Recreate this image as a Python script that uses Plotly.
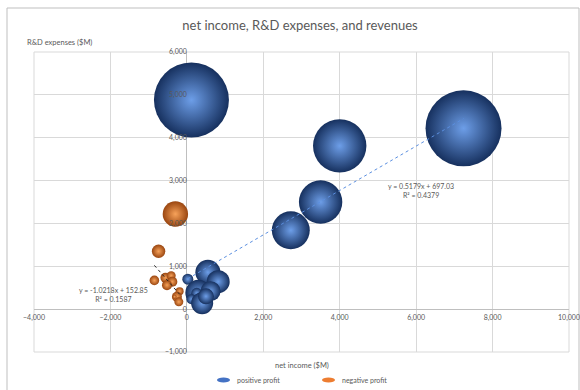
import plotly.graph_objects as go

# Companies with positive net income
pos_income = [120, 7240, 4000, 3500, 2720, 25, 550, 820, 300, 620, 260, 120, 400, 500]
pos_rd = [4880, 4220, 3810, 2500, 1840, 700, 860, 640, 380, 420, 370, 230, 140, 300]
pos_revenue = [63300, 65000, 32100, 21200, 16200, 1360, 7030, 5950, 7600, 4500, 1360, 1125, 5445, 2880]

# Companies with negative net income
neg_income = [-300, -740, -850, -560, -410, -380, -520, -190, -260, -210, -320]
neg_rd = [2220, 1350, 670, 730, 780, 640, 560, 420, 290, 170, 290]
neg_revenue = [7260, 2020, 1040, 1125, 910, 1125, 1125, 720, 1125, 910, 180]

# Linear trendlines (slope, intercept, R²)
pos_fit = (0.5179, 697.03, 0.4379)
neg_fit = (-1.0218, 152.85, 0.1587)

x_ticks = [-4000, -2000, 0, 2000, 4000, 6000, 8000, 10000]
y_ticks = [-1000, 0, 1000, 2000, 3000, 4000, 5000, 6000]

# edge colour, centre highlight colour
BLUE_EDGE, BLUE_CENTER = "#16305e", "#6d9ee8"
ORANGE_EDGE, ORANGE_CENTER = "#9a4610", "#f7a25a"
BLUE, ORANGE = "#4472C4", "#ED7D31"
TEXT = "#595959"
FONT = "Lato"

W, H = 580, 390
ML, MR, MT, MB = 34, 11, 52, 38
PW, PH = W - ML - MR, H - MT - MB


def px(xp):
    return (xp - ML) / PW


def py(yp):
    return (H - MB - yp) / PH


max_diam = 76
sizeref = 2 * max(pos_revenue + neg_revenue) / max_diam ** 2

fig = go.Figure()

fig.add_trace(go.Scatter(
    x=pos_income, y=pos_rd, mode="markers", name="positive profit",
    marker=dict(size=pos_revenue, sizemode="area", sizeref=sizeref, opacity=1,
                color=BLUE_EDGE, line=dict(width=0),
                gradient=dict(type="radial", color=BLUE_CENTER)),
    showlegend=False,
))
fig.add_trace(go.Scatter(
    x=neg_income, y=neg_rd, mode="markers", name="negative profit",
    marker=dict(size=neg_revenue, sizemode="area", sizeref=sizeref, opacity=1,
                color=ORANGE_EDGE, line=dict(width=0),
                gradient=dict(type="radial", color=ORANGE_CENTER)),
    showlegend=False,
))


def trend(xs, fit, color):
    slope, intercept, _ = fit
    x0, x1 = min(xs), max(xs)
    return go.Scatter(
        x=[x0, x1], y=[slope * x0 + intercept, slope * x1 + intercept],
        mode="lines", line=dict(color=color, width=1, dash="dot"),
        showlegend=False, hoverinfo="skip",
    )


fig.add_trace(trend(pos_income, pos_fit, "#5b8fe0"))
fig.add_trace(trend(neg_income, neg_fit, "#262626"))


def fit_label(fit):
    slope, intercept, r2 = fit
    sign = "+" if intercept >= 0 else "-"
    return f"y = {slope:.4f}x {sign} {abs(intercept):.2f}<br>R² = {r2:.4f}"


fig.add_annotation(x=6140, y=2765, text=fit_label(pos_fit), showarrow=False,
                   font=dict(size=7, color=TEXT, family=FONT))
fig.add_annotation(x=-1910, y=338, text=fit_label(neg_fit), showarrow=False,
                   font=dict(size=7, color=TEXT, family=FONT))

# Axis titles
fig.add_annotation(xref="paper", yref="paper", x=px(25), y=py(43), xanchor="left",
                   yanchor="middle", text="R&D expenses ($M)", showarrow=False,
                   font=dict(size=7.5, color=TEXT, family=FONT))
fig.add_annotation(xref="paper", yref="paper", x=px(302), y=py(365), xanchor="center",
                   yanchor="middle", text="net income ($M)", showarrow=False,
                   font=dict(size=7.5, color=TEXT, family=FONT))

# Legend
legend_items = [("positive profit", BLUE, 217), ("negative profit", ORANGE, 322)]
for label, color, lx in legend_items:
    fig.add_shape(type="circle", xref="paper", yref="paper",
                  x0=px(lx), x1=px(lx + 13), y0=py(382.5), y1=py(377.5),
                  fillcolor=color, line=dict(width=0))
    fig.add_annotation(xref="paper", yref="paper", x=px(lx + 18), y=py(380),
                       xanchor="left", yanchor="middle", text=label, showarrow=False,
                       font=dict(size=7, color=TEXT, family=FONT))

# Chart frame and plot-area edge
fig.add_shape(type="rect", xref="paper", yref="paper", x0=px(7), x1=px(579),
              y0=py(398), y1=py(8), line=dict(color="#bfbfbf", width=1), layer="below")
fig.add_shape(type="rect", xref="paper", yref="paper", x0=0, x1=1, y0=0, y1=1,
              line=dict(color="#d9d9d9", width=1), layer="below")

fig.update_layout(
    width=W, height=H,
    margin=dict(l=ML, r=MR, t=MT, b=MB, autoexpand=False),
    paper_bgcolor="white", plot_bgcolor="white",
    title=dict(text="net income, R&D expenses, and revenues", xref="container",
               x=300 / W, xanchor="center", y=1 - 25 / H, yanchor="middle",
               font=dict(size=13, color=TEXT, family=FONT)),
    font=dict(family=FONT, color=TEXT),
    showlegend=False,
    xaxis=dict(range=[-4000, 10000], tickvals=x_ticks, tickformat=",",
               showgrid=True, gridcolor="#d9d9d9", gridwidth=1,
               zeroline=True, zerolinecolor="#bfbfbf", zerolinewidth=1,
               showline=False, ticks="", anchor="free", position=1 / 7,
               ticklabelstandoff=3, ticklabeloverflow="allow", automargin=False,
               tickfont=dict(size=7, color=TEXT, family=FONT)),
    yaxis=dict(range=[-1000, 6000], tickvals=y_ticks, tickformat=",",
               showgrid=True, gridcolor="#d9d9d9", gridwidth=1,
               zeroline=True, zerolinecolor="#bfbfbf", zerolinewidth=1,
               showline=False, ticks="", anchor="free", position=4 / 14,
               ticklabeloverflow="allow", automargin=False,
               tickfont=dict(size=7, color=TEXT, family=FONT)),
)

fig.write_html("out.html")
